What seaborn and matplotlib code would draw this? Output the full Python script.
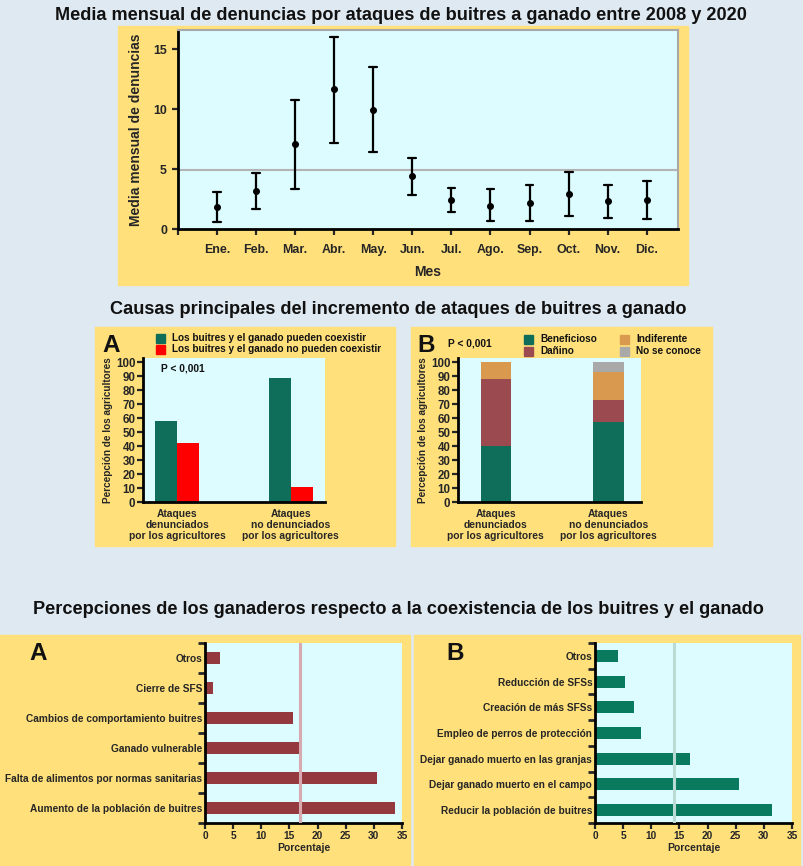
import numpy as np
import pandas as pd
import matplotlib
matplotlib.use("Agg")
import matplotlib.pyplot as plt
import seaborn as sns
from matplotlib.patches import Rectangle

# datos
meses = ["Ene.", "Feb.", "Mar.", "Abr.", "May.", "Jun.", "Jul.", "Ago.", "Sep.", "Oct.", "Nov.", "Dic."]
media_denuncias = [1.8, 3.2, 7.05, 11.65, 9.95, 4.4, 2.4, 1.95, 2.15, 2.9, 2.3, 2.4]
limite_inferior = [0.55, 1.7, 3.35, 7.2, 6.4, 2.8, 1.4, 0.65, 0.65, 1.05, 0.9, 0.8]
limite_superior = [3.05, 4.7, 10.8, 16.05, 13.55, 5.95, 3.4, 3.3, 3.65, 4.75, 3.7, 4.0]
media_global = 4.9

grupos = ["Ataques\ndenunciados\npor los agricultores", "Ataques\nno denunciados\npor los agricultores"]
coexistencia = ["Los buitres y el ganado pueden coexistir", "Los buitres y el ganado no pueden coexistir"]
pueden_coexistir = [58, 89]
no_pueden_coexistir = [42, 11]

percepcion = ["Beneficioso", "Dañino", "Indiferente", "No se conoce"]
beneficioso = [40, 57]
danino = [48, 16]
indiferente = [12, 20]
no_se_conoce = [0, 7]

causas = ["Otros", "Cierre de SFS", "Cambios de comportamiento buitres", "Ganado vulnerable",
          "Falta de alimentos por normas sanitarias", "Aumento de la población de buitres"]
causas_pct = [2.6, 1.4, 15.6, 17.1, 30.5, 33.8]
causas_media = 16.9

medidas = ["Otros", "Reducción de SFSs", "Creación de más SFSs", "Empleo de perros de protección",
           "Dejar ganado muerto en las granjas", "Dejar ganado muerto en el campo",
           "Reducir la población de buitres"]
medidas_pct = [4.1, 5.4, 6.9, 8.1, 16.9, 25.5, 31.5]
medidas_media = 14.0

# colores
fondo = "#dfe9f1"
amarillo = "#ffe07b"
cian = "#dcfcff"
verde = "#0f6e5a"
rojo = "#ff0000"
granate = "#943a3e"
naranja = "#d99a50"
gris = "#a9a9a9"
verde2 = "#0a7a5e"

sns.set_style("ticks")
plt.rcParams["font.family"] = ["Liberation Sans", "DejaVu Sans"]
plt.rcParams["text.color"] = "#111111"

W, H = 804, 866
fig = plt.figure(figsize=(W / 100, H / 100), dpi=100, facecolor=fondo)


def caja(x0, y0, x1, y1):
    return [x0 / W, 1 - y1 / H, (x1 - x0) / W, (y1 - y0) / H]


def panel(x0, y0, x1, y1):
    fig.add_artist(Rectangle((x0 / W, 1 - y1 / H), (x1 - x0) / W, (y1 - y0) / H,
                             transform=fig.transFigure, color=amarillo, zorder=-1))


def texto(x, y, s, **kw):
    fig.text(x / W, 1 - y / H, s, **kw)


def cuadro(x, y, color, lado=9):
    fig.add_artist(Rectangle((x / W, 1 - (y + lado / 2) / H), lado / W, lado / H,
                             transform=fig.transFigure, color=color, zorder=3))


def estilo_ejes(ax, fs):
    ax.set_facecolor(cian)
    for lado in ["left", "bottom"]:
        ax.spines[lado].set_linewidth(2)
        ax.spines[lado].set_color("black")
    ax.tick_params(width=1.6, length=4, labelsize=fs, pad=1.5)
    for t in ax.get_xticklabels() + ax.get_yticklabels():
        t.set_fontweight("bold")


# ---------- panel superior ----------
panel(118, 26, 688, 285)
texto(401, 15, "Media mensual de denuncias por ataques de buitres a ganado entre 2008 y 2020",
      ha="center", va="center", fontsize=13.1, fontweight="bold")
ax1 = fig.add_axes(caja(178, 30, 678, 229))
df_mes = pd.DataFrame({
    "mes": np.repeat(meses, 3),
    "valor": np.ravel(np.column_stack([limite_inferior, media_denuncias, limite_superior])),
})
ax1.axhline(media_global, color="#b4b4b4", lw=1.5, zorder=1)
sns.pointplot(data=df_mes, x="mes", y="valor", order=meses, estimator="median",
              errorbar=lambda v: (v.min(), v.max()), linestyle="none", color="black",
              markers="o", markersize=3, capsize=0.2, err_kws={"linewidth": 1.6}, ax=ax1)
ax1.set_xlim(-1, 11.8)
ax1.set_ylim(0, 16.6)
ax1.set_yticks([0, 5, 10, 15])
ax1.set_xticks([-1] + list(range(12)))
ax1.set_xticklabels([""] + meses)
ax1.set_xlabel("Mes", fontsize=10, fontweight="bold", labelpad=6)
ax1.set_ylabel("Media mensual de denuncias", fontsize=10, fontweight="bold", labelpad=7)
estilo_ejes(ax1, 8.9)
ax1.tick_params(axis="x", pad=7)
ax1.tick_params(axis="y", pad=4)
for lado in ["top", "right"]:
    ax1.spines[lado].set_visible(True)
    ax1.spines[lado].set_color("#a8a8a8")
    ax1.spines[lado].set_linewidth(1.5)

# ---------- paneles centrales ----------
texto(398, 310, "Causas principales del incremento de ataques de buitres a ganado",
      ha="center", va="center", fontsize=13.1, fontweight="bold")

panel(95, 327, 395, 546)
axA = fig.add_axes(caja(143, 358, 325, 502))
df_coex = pd.DataFrame({
    "grupo": grupos * 2,
    "respuesta": np.repeat(coexistencia, 2),
    "pct": pueden_coexistir + no_pueden_coexistir,
})
sns.barplot(data=df_coex, x="grupo", y="pct", hue="respuesta", order=grupos,
            hue_order=coexistencia, palette=[verde, rojo], width=0.39, saturation=1,
            legend=False, linewidth=0, ax=axA)
axA.set_xlim(-0.30, 1.30)
axA.set_ylim(0, 103)
axA.set_yticks(range(0, 101, 10))
axA.set_xlabel("")
axA.set_ylabel("Percepción de los agricultores", fontsize=7.2, fontweight="bold", labelpad=2)
estilo_ejes(axA, 8.3)
axA.tick_params(axis="x", length=0, labelsize=7.4, pad=5)
for t in axA.get_xticklabels():
    t.set_linespacing(1.15)
sns.despine(ax=axA)
axA.text(0.1, 0.93, "P < 0,001", transform=axA.transAxes, fontsize=7.4, fontweight="bold", va="center")
texto(102, 345, "A", fontsize=17.5, fontweight="bold", va="center")
for i, (lab, col) in enumerate(zip(coexistencia, [verde, rojo])):
    cuadro(156, 338 + 11 * i, col)
    texto(172, 338 + 11 * i, lab, fontsize=7.2, fontweight="bold", va="center")

panel(411, 327, 712, 546)
axB = fig.add_axes(caja(458, 358, 641, 502))
capas = [beneficioso, danino, indiferente, no_se_conoce]
colores_b = [verde, "#9b4a50", naranja, gris]
acumulado = np.cumsum(capas, axis=0)
for k in range(len(capas) - 1, -1, -1):
    sns.barplot(x=grupos, y=acumulado[k], order=grupos, color=colores_b[k],
                width=0.27, saturation=1, linewidth=0, ax=axB)
axB.set_xlim(-0.336, 1.29)
axB.set_ylim(0, 103)
axB.set_yticks(range(0, 101, 10))
axB.set_xlabel("")
axB.set_ylabel("Percepción de los agricultores", fontsize=7.2, fontweight="bold", labelpad=2)
estilo_ejes(axB, 8.3)
axB.tick_params(axis="x", length=0, labelsize=7.4, pad=5)
for t in axB.get_xticklabels():
    t.set_linespacing(1.15)
sns.despine(ax=axB)
texto(417, 345, "B", fontsize=17.5, fontweight="bold", va="center")
texto(448, 343, "P < 0,001", fontsize=7.4, fontweight="bold", va="center")
for i, (lab, col) in enumerate(zip(percepcion, colores_b)):
    cx = 524 if i < 2 else 620
    cy = 339 + 12 * (i % 2)
    cuadro(cx, cy, col)
    texto(cx + 16, cy, lab, fontsize=7.2, fontweight="bold", va="center")

# ---------- paneles inferiores ----------
texto(398, 610, "Percepciones de los ganaderos respecto a la coexistencia de los buitres y el ganado",
      ha="center", va="center", fontsize=13.1, fontweight="bold")


def barras_h(ax, etiquetas, valores, color, alto, media, color_media):
    sns.barplot(x=valores, y=etiquetas, order=etiquetas, orient="h", color=color,
                width=alto, saturation=1, linewidth=0, ax=ax)
    ax.axvline(media, color=color_media, lw=2.2, zorder=5)
    n = len(etiquetas)
    ax.set_ylim(n - 0.5, -0.5)
    ax.set_xlim(0, 35)
    ax.set_xticks(range(0, 36, 5))
    ax.set_yticks(np.arange(-0.5, n), minor=True)
    ax.set_xlabel("Porcentaje", fontsize=7.5, fontweight="bold", labelpad=2)
    ax.set_ylabel("")
    estilo_ejes(ax, 7.3)
    ax.tick_params(axis="y", which="major", length=0, pad=2)
    ax.tick_params(axis="y", which="minor", length=5, width=2)
    sns.despine(ax=ax)


panel(0, 635, 410, 866)
axC = fig.add_axes(caja(205, 643, 402, 823))
barras_h(axC, causas, causas_pct, granate, 0.4, causas_media, "#d8a9b0")
texto(29, 653, "A", fontsize=17.5, fontweight="bold", va="center")

panel(414, 635, 800, 866)
axD = fig.add_axes(caja(595, 643, 792, 823))
barras_h(axD, medidas, medidas_pct, verde2, 0.47, medidas_media, "#b9dbd3")
texto(446, 653, "B", fontsize=17.5, fontweight="bold", va="center")

fig.savefig("out.png", dpi=100, facecolor=fondo)
